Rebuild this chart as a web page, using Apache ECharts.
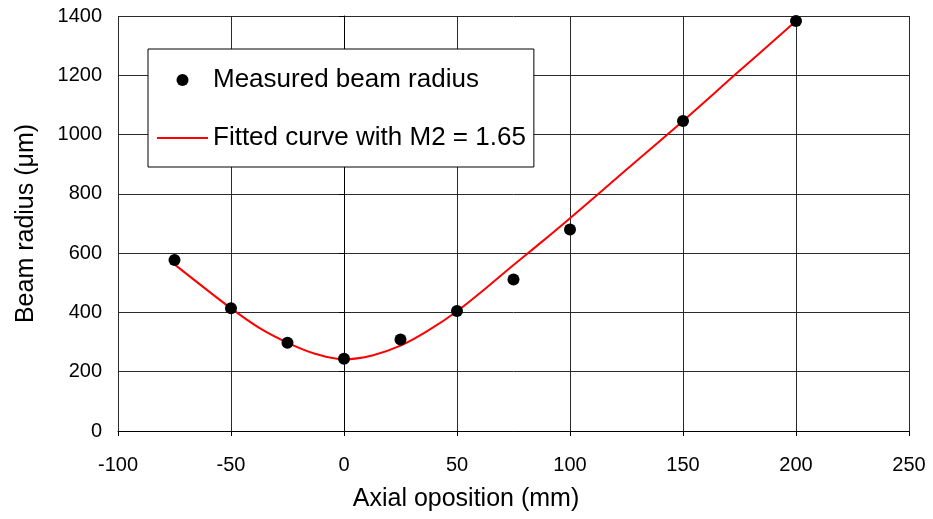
<!DOCTYPE html>
<html>
<head>
<meta charset="utf-8">
<script src="https://cdn.jsdelivr.net/npm/echarts@6/dist/echarts.min.js"></script>
<style>
  html, body { margin: 0; padding: 0; background: #fff; }
  #chart { width: 933px; height: 519px; }
</style>
</head>
<body>
<div id="chart"></div>
<script>
// measured points (mm, µm)
const measuredX = [-75, -50, -25, 0, 25, 50, 75, 100, 150, 200];
const measuredY = [577, 414, 298, 244, 309, 405, 511, 680, 1046, 1383];

// fitted curve
const fitX = [-75, -62.5, -50, -37.5, -25, -12.5, 0, 12.5, 25, 37.5, 50, 62.5, 75, 87.5, 100, 125, 150, 175, 200];
const fitY = [562, 487, 414, 348, 298, 260, 242, 255, 288, 340, 404, 480, 560, 638, 718, 882, 1046, 1215, 1383];

const font = 'Liberation Sans, Arial, sans-serif';

const chart = echarts.init(document.getElementById('chart'), null, { renderer: 'canvas' });

chart.setOption({
  animation: false,
  backgroundColor: '#fff',
  grid: { left: 118, right: 24, top: 16, bottom: 88, containLabel: false },
  legend: {
    left: 148,
    top: 49,
    orient: 'vertical',
    backgroundColor: '#fff',
    borderColor: '#000',
    borderWidth: 1,
    borderRadius: 0,
    padding: [16, 8, 14, 9],
    itemWidth: 51,
    itemHeight: 12,
    itemGap: 28,
    selectedMode: false,
    textStyle: { fontFamily: font, fontSize: 26, color: '#000', lineHeight: 30 },
    data: [
      { name: 'Measured beam radius', icon: 'circle', itemStyle: { color: '#000', opacity: 1 } },
      { name: 'Fitted curve with M2 = 1.65', icon: 'path://M0,0h51v2h-51z', itemStyle: { color: '#ff0000' } },
    ],
  },
  xAxis: {
    type: 'value',
    min: -100,
    max: 250,
    interval: 50,
    name: 'Axial oposition (mm)',
    nameLocation: 'middle',
    nameGap: 56,
    nameTextStyle: { fontFamily: font, fontSize: 25, color: '#000', padding: [0, 95, 0, 0] },
    axisLine: { show: true, onZero: false, lineStyle: { color: '#000', width: 1 } },
    axisTick: { show: true, inside: false, length: 5, lineStyle: { color: '#000' } },
    axisLabel: { fontFamily: font, fontSize: 20, color: '#000', margin: 24 },
    splitLine: { show: true, lineStyle: { color: '#2a2a2a', width: 1 } },
  },
  yAxis: {
    type: 'value',
    min: 0,
    max: 1400,
    interval: 200,
    name: 'Beam radius (μm)',
    nameLocation: 'middle',
    nameGap: 79,
    nameTextStyle: { fontFamily: font, fontSize: 25, color: '#000' },
    axisLine: { show: true, lineStyle: { color: '#000', width: 1 } },
    axisTick: { show: true, inside: false, length: 5, lineStyle: { color: '#000' } },
    axisLabel: { fontFamily: font, fontSize: 20, color: '#000', margin: 16, formatter: v => String(v) },
    splitLine: { show: true, lineStyle: { color: '#2a2a2a', width: 1 } },
  },
  series: [
    {
      name: 'Fitted curve with M2 = 1.65',
      type: 'line',
      smooth: 0.4,
      symbol: 'none',
      lineStyle: { color: '#ff0000', width: 2 },
      itemStyle: { color: '#ff0000' },
      z: 2,
      data: fitX.map((x, i) => [x, fitY[i]]),
    },
    {
      name: 'Measured beam radius',
      type: 'scatter',
      symbol: 'circle',
      symbolSize: 12,
      itemStyle: { color: '#000', opacity: 1 },
      z: 3,
      data: measuredX.map((x, i) => [x, measuredY[i]]),
    },
  ],
});
</script>
</body>
</html>
